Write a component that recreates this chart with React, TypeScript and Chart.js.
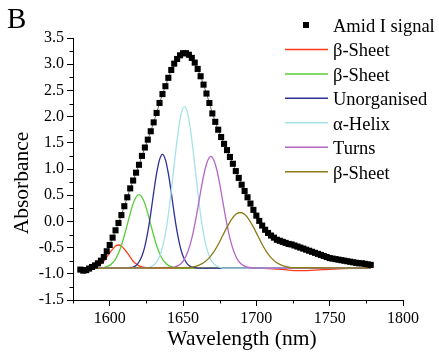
import React, { useEffect, useRef } from "react";
import { Chart, registerables } from "chart.js";
Chart.register(...registerables);

const FONT = "'Liberation Serif', 'Times New Roman', serif";

// Amid I signal (wavelength nm / absorbance)
const signalX = [
  1580, 1582, 1584, 1586, 1588, 1590, 1592, 1594, 1596, 1598,
  1600, 1602, 1604, 1606, 1608, 1610, 1612, 1614, 1616, 1618,
  1620, 1622, 1624, 1626, 1628, 1630, 1632, 1634, 1636, 1638,
  1640, 1642, 1644, 1646, 1648, 1650, 1652, 1654, 1656, 1658,
  1660, 1662, 1664, 1666, 1668, 1670, 1672, 1674, 1676, 1678,
  1680, 1682, 1684, 1686, 1688, 1690, 1692, 1694, 1696, 1698,
  1700, 1702, 1704, 1706, 1708, 1710, 1712, 1714, 1716, 1718,
  1720, 1722, 1724, 1726, 1728, 1730, 1732, 1734, 1736, 1738,
  1740, 1742, 1744, 1746, 1748, 1750, 1752, 1754, 1756, 1758,
  1760, 1762, 1764, 1766, 1768, 1770, 1772, 1774, 1776, 1778,
];
const signalY = [
  -0.92, -0.94, -0.93, -0.9, -0.87, -0.84, -0.8, -0.75, -0.68, -0.57,
  -0.45, -0.31, -0.17, -0.03, 0.12, 0.29, 0.46, 0.63, 0.78, 0.93,
  1.08, 1.25, 1.41, 1.56, 1.72, 1.89, 2.07, 2.26, 2.43, 2.58,
  2.74, 2.89, 3.01, 3.1, 3.17, 3.21, 3.21, 3.18, 3.12, 3.03,
  2.91, 2.77, 2.61, 2.44, 2.26, 2.06, 1.9, 1.75, 1.61, 1.48,
  1.36, 1.23, 1.1, 0.96, 0.83, 0.7, 0.58, 0.46, 0.34, 0.22,
  0.11, 0.01, -0.08, -0.16, -0.22, -0.27, -0.31, -0.35, -0.37, -0.39,
  -0.41, -0.43, -0.44, -0.46, -0.48, -0.5, -0.52, -0.54, -0.56, -0.58,
  -0.6, -0.62, -0.64, -0.66, -0.68, -0.7, -0.71, -0.72, -0.73, -0.74,
  -0.75, -0.76, -0.77, -0.78, -0.79, -0.8, -0.8, -0.81, -0.82, -0.83,
];

// β-Sheet (red)
const redX = [1580, 1586, 1588, 1590, 1592, 1594, 1596, 1598, 1600, 1602, 1604, 1606, 1608, 1610, 1612, 1614, 1616, 1618, 1620, 1622, 1624, 1628, 1700, 1715, 1730, 1745, 1760, 1778];
const redY = [-0.89, -0.89, -0.88, -0.87, -0.85, -0.81, -0.76, -0.68, -0.6, -0.53, -0.47, -0.45, -0.47, -0.53, -0.6, -0.68, -0.76, -0.81, -0.85, -0.87, -0.88, -0.89, -0.89, -0.91, -0.94, -0.92, -0.9, -0.89];

// β-Sheet (green)
const greenX = [1580, 1594, 1596, 1598, 1600, 1602, 1604, 1606, 1608, 1610, 1612, 1614, 1616, 1618, 1620, 1622, 1624, 1626, 1628, 1630, 1632, 1634, 1636, 1638, 1640, 1642, 1644, 1646, 1778];
const greenY = [-0.89, -0.89, -0.88, -0.86, -0.84, -0.79, -0.72, -0.61, -0.46, -0.27, -0.06, 0.15, 0.34, 0.465, 0.51, 0.465, 0.34, 0.15, -0.06, -0.27, -0.46, -0.61, -0.72, -0.79, -0.84, -0.86, -0.88, -0.89, -0.89];

// Unorganised (blue)
const blueX = [1580, 1612, 1614, 1616, 1618, 1620, 1622, 1624, 1626, 1628, 1630, 1632, 1634, 1636, 1638, 1640, 1642, 1644, 1646, 1648, 1650, 1652, 1654, 1656, 1658, 1660, 1778];
const blueY = [-0.89, -0.89, -0.88, -0.87, -0.84, -0.775, -0.66, -0.475, -0.2, 0.15, 0.55, 0.915, 1.18, 1.28, 1.18, 0.915, 0.55, 0.15, -0.2, -0.475, -0.66, -0.775, -0.84, -0.87, -0.88, -0.89, -0.89];

// α-Helix (cyan)
const cyanX = [1580, 1625, 1627, 1629, 1631, 1633, 1635, 1637, 1639, 1641, 1643, 1645, 1647, 1649, 1651, 1653, 1655, 1657, 1659, 1661, 1663, 1665, 1667, 1669, 1671, 1673, 1675, 1677, 1778];
const cyanY = [-0.89, -0.89, -0.875, -0.85, -0.81, -0.73, -0.59, -0.375, -0.065, 0.345, 0.83, 1.33, 1.77, 2.08, 2.19, 2.08, 1.77, 1.33, 0.83, 0.345, -0.065, -0.375, -0.59, -0.73, -0.81, -0.85, -0.875, -0.89, -0.89];

// Turns (magenta)
const magX = [1580, 1643, 1645, 1647, 1649, 1651, 1653, 1655, 1657, 1659, 1661, 1663, 1665, 1667, 1669, 1671, 1673, 1675, 1677, 1679, 1681, 1683, 1685, 1687, 1689, 1691, 1693, 1695, 1700, 1778];
const magY = [-0.89, -0.88, -0.865, -0.84, -0.795, -0.72, -0.6, -0.43, -0.2, 0.085, 0.4, 0.72, 0.99, 1.17, 1.24, 1.17, 0.99, 0.72, 0.4, 0.085, -0.2, -0.43, -0.6, -0.72, -0.795, -0.84, -0.865, -0.88, -0.89, -0.89];

// β-Sheet (olive)
const oliveX = [1580, 1653, 1656, 1659, 1662, 1665, 1668, 1671, 1674, 1677, 1680, 1683, 1686, 1689, 1692, 1695, 1698, 1701, 1704, 1707, 1710, 1713, 1716, 1719, 1722, 1725, 1778];
const oliveY = [-0.89, -0.885, -0.875, -0.855, -0.82, -0.77, -0.69, -0.58, -0.44, -0.275, -0.11, 0.035, 0.135, 0.17, 0.135, 0.035, -0.11, -0.275, -0.44, -0.58, -0.69, -0.77, -0.82, -0.855, -0.875, -0.885, -0.89];

const legendLabels = ["Amid I signal", "β-Sheet", "β-Sheet", "Unorganised", "α-Helix", "Turns", "β-Sheet"];
const componentColors = ["#ff3a1c", "#5acd3a", "#2e2e98", "#a6e2e8", "#b466c6", "#8c7c18"];

const xTickLabels = [1600, 1650, 1700, 1750, 1800];

function pts(xs: number[], ys: number[]) {
  return xs.map((x, i) => ({ x, y: ys[i] }));
}

const overlay = {
  id: "overlay",
  afterDraw(chart: any) {
    const ctx = chart.ctx as CanvasRenderingContext2D;
    const xs = chart.scales.x;
    const ys = chart.scales.y;
    ctx.save();
    ctx.strokeStyle = "#000";
    ctx.lineWidth = 1;
    // minor ticks
    xs.ticks.forEach((t: any) => {
      if (!xTickLabels.includes(t.value) && t.value % 50 !== 0) {
        const px = Math.round(xs.getPixelForValue(t.value)) + 0.5;
        ctx.beginPath();
        ctx.moveTo(px, xs.top);
        ctx.lineTo(px, xs.top + 3.5);
        ctx.stroke();
      }
    });
    ys.ticks.forEach((t: any) => {
      const r = t.value * 2;
      if (Math.abs(r - Math.round(r)) > 1e-6) {
        const py = Math.round(ys.getPixelForValue(t.value)) + 0.5;
        ctx.beginPath();
        ctx.moveTo(ys.right, py);
        ctx.lineTo(ys.right - 3.5, py);
        ctx.stroke();
      }
    });

    // panel letter
    ctx.fillStyle = "#000";
    ctx.textAlign = "left";
    ctx.textBaseline = "alphabetic";
    ctx.font = `29px ${FONT}`;
    ctx.fillText("B", 7, 28);

    // axis titles
    ctx.font = `21.5px ${FONT}`;
    ctx.textAlign = "center";
    ctx.fillText("Wavelength (nm)", (xs.left + xs.right) / 2 + 4, 345);
    ctx.save();
    ctx.translate(28, (ys.top + ys.bottom) / 2 + 14);
    ctx.rotate(-Math.PI / 2);
    ctx.textBaseline = "alphabetic";
    ctx.fillText("Absorbance", 0, 0);
    ctx.restore();

    // legend
    ctx.font = `18.5px ${FONT}`;
    ctx.textAlign = "left";
    ctx.textBaseline = "alphabetic";
    chart.data.datasets.forEach((ds: any, i: number) => {
      const rowY = 25 + i * 24.45;
      if (i === 0) {
        ctx.fillStyle = "#000";
        ctx.fillRect(303, rowY - 3, 6, 6);
      } else {
        ctx.strokeStyle = ds.borderColor;
        ctx.lineWidth = 1.5;
        ctx.beginPath();
        ctx.moveTo(285, rowY);
        ctx.lineTo(328, rowY);
        ctx.stroke();
      }
      ctx.fillStyle = "#000";
      ctx.fillText(ds.label, 333, rowY + 7);
    });
    ctx.restore();
  },
};

export default function App() {
  const ref = useRef<HTMLCanvasElement>(null);
  useEffect(() => {
    document.body.style.margin = "0";
    const compX = [redX, greenX, blueX, cyanX, magX, oliveX];
    const compY = [redY, greenY, blueY, cyanY, magY, oliveY];
    const datasets: any[] = [
      {
        label: legendLabels[0],
        data: pts(signalX, signalY),
        showLine: true,
        borderColor: "#5c7c52",
        borderWidth: 1,
        pointStyle: "rect",
        pointRadius: 4.3,
        pointBackgroundColor: "#000",
        pointBorderColor: "#000",
        pointBorderWidth: 0,
        order: 0,
      },
    ];
    compX.forEach((xs, i) => {
      datasets.push({
        label: legendLabels[i + 1],
        data: pts(xs, compY[i]),
        borderColor: componentColors[i],
        borderWidth: 1.3,
        pointRadius: 0,
        cubicInterpolationMode: "monotone",
        order: 6 - i,
      });
    });
    const chart = new Chart(ref.current!, {
      type: "line",
      data: { datasets },
      options: {
        animation: false,
        responsive: false,
        devicePixelRatio: 1,
        layout: { padding: { top: 38, right: 36, left: 0, bottom: 0 } },
        plugins: { legend: { display: false }, tooltip: { enabled: false } },
        scales: {
          x: {
            type: "linear",
            min: 1575,
            max: 1800,
            afterFit: (s: any) => { s.height = 52; },
            ticks: {
              stepSize: 25,
              autoSkip: false,
              maxRotation: 0,
              padding: 3,
              color: "#000",
              font: { family: FONT, size: 16 },
              callback: (v: any) => (xTickLabels.includes(Number(v)) ? String(v) : ""),
            },
            grid: {
              drawOnChartArea: false,
              drawTicks: true,
              tickLength: 6,
              tickWidth: 1,
              tickColor: (c: any) => (c.tick && c.tick.value % 50 === 0 ? "#000" : "rgba(0,0,0,0)"),
            },
            border: { display: true, color: "#000", width: 1 },
          },
          y: {
            type: "linear",
            min: -1.5,
            max: 3.5,
            afterFit: (s: any) => { s.width = 73; },
            ticks: {
              stepSize: 0.25,
              autoSkip: false,
              padding: 3,
              color: "#000",
              font: { family: FONT, size: 16 },
              callback: (v: any) => {
                const r = Number(v) * 2;
                return Math.abs(r - Math.round(r)) < 1e-6 ? Number(v).toFixed(1) : "";
              },
            },
            grid: {
              drawOnChartArea: false,
              drawTicks: true,
              tickLength: 6,
              tickWidth: 1,
              tickColor: (c: any) => {
                if (!c.tick) return "#000";
                const r = c.tick.value * 2;
                return Math.abs(r - Math.round(r)) < 1e-6 ? "#000" : "rgba(0,0,0,0)";
              },
            },
            border: { display: true, color: "#000", width: 1 },
          },
        },
      },
      plugins: [overlay],
    } as any);
    return () => chart.destroy();
  }, []);
  return (
    <div style={{ width: 439, height: 352, background: "#fff" }}>
      <canvas ref={ref} width={439} height={352} />
    </div>
  );
}
